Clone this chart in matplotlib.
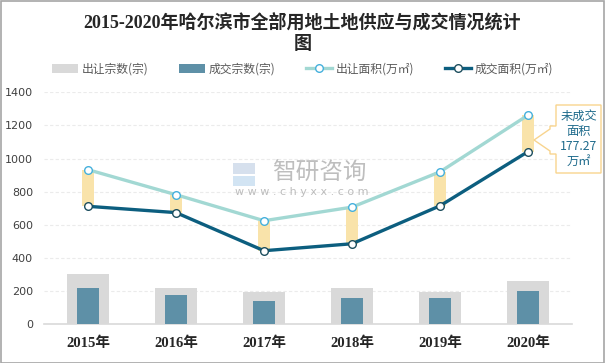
import matplotlib
matplotlib.use("Agg")
import matplotlib.pyplot as plt
import numpy as np
from matplotlib.patches import Rectangle, Polygon
from matplotlib.lines import Line2D

plt.rcParams['font.family'] = ['Noto Sans CJK SC', 'DejaVu Sans']

years = ["2015年", "2016年", "2017年", "2018年", "2019年", "2020年"]
supply_count = [302, 220, 193, 220, 193, 260]      # 出让宗数(宗)
deal_count = [218, 175, 139, 157, 157, 199]        # 成交宗数(宗)
supply_area = [933, 782, 625, 707, 920, 1262]      # 出让面积(万㎡)
deal_area = [712, 674, 444, 486, 715, 1042]        # 成交面积(万㎡)
y_ticks = [0, 200, 400, 600, 800, 1000, 1200, 1400]
title = "2015-2020年哈尔滨市全部用地土地供应与成交情况统计\n图"
note = "未成交\n面积\n177.27\n万㎡"

C_GRAY = "#D9D9D9"
C_BAR = "#5E90A7"
C_SUP = "#A2D8D3"
C_DEAL = "#0C5E7F"
C_YEL = "#F9E3AA"

fig = plt.figure(figsize=(6.05, 3.63), dpi=100)
ax = fig.add_axes([44/605, 1-324.3/363, 528/605, 232/363])

x = np.arange(len(years))
ax.bar(x, supply_count, width=0.47, color=C_GRAY, zorder=2)
ax.bar(x, deal_count, width=0.25, color=C_BAR, zorder=3)

# yellow gap bars
for xi, s, d in zip(x, supply_area, deal_area):
    ax.add_patch(Rectangle((xi-0.072, d), 0.144, s-d, facecolor=C_YEL,
                           edgecolor='none', zorder=4))

ax.plot(x, supply_area, color=C_SUP, lw=2.4, zorder=5, solid_joinstyle='round',
        marker='o', ms=5.5, mfc='white', mec='#45B0DC', mew=1.0)
ax.plot(x, deal_area, color=C_DEAL, lw=2.4, zorder=5, solid_joinstyle='round',
        marker='o', ms=5.5, mfc='white', mec='#1D4E5E', mew=1.0)

ax.set_xlim(-0.5, len(years)-0.5)
ax.set_ylim(0, 1400)
ax.set_yticks(y_ticks)
ax.set_yticklabels([str(v) for v in y_ticks], fontsize=8, color='#404040',
                   family=['DejaVu Sans'])
ax.set_xticks(x)
ax.set_xticklabels(years, fontsize=10.5, fontweight='bold', color='#262626',
                   family=['Liberation Serif', 'Noto Sans CJK SC'])
ax.tick_params(axis='both', length=0)
ax.tick_params(axis='x', pad=9)
ax.tick_params(axis='y', pad=8)
ax.grid(axis='y', color='#EBEBEB', lw=0.8, ls=(0, (3, 2)), zorder=0)
for sp in ['top', 'right', 'left']:
    ax.spines[sp].set_visible(False)
ax.spines['bottom'].set_color('#D9D9D9')
ax.spines['bottom'].set_linewidth(1.2)
ax.set_axisbelow(True)

# title
fig.text(0.5, 1-33/363, title, ha='center', va='center', fontsize=13,
         fontweight='bold', color='#262626', linespacing=1.3,
         family=['Liberation Serif', 'Noto Sans CJK SC'])

# legend
handles = [
    Rectangle((0, 0), 1, 1, facecolor=C_GRAY),
    Rectangle((0, 0), 1, 1, facecolor=C_BAR),
    Line2D([0], [0], color=C_SUP, lw=2.4, marker='o', ms=5.5, mfc='white', mec='#45B0DC'),
    Line2D([0], [0], color=C_DEAL, lw=2.4, marker='o', ms=5.5, mfc='white', mec='#1D4E5E'),
]
labels = ["出让宗数(宗)", "成交宗数(宗)", "出让面积(万㎡)", "成交面积(万㎡)"]
leg = fig.legend(handles, labels, loc='center', bbox_to_anchor=(0.5, 1-69/363),
                 ncol=4, frameon=False, fontsize=8.5, handlelength=2.2,
                 handleheight=0.9, columnspacing=2.6, handletextpad=0.3,
                 labelcolor='#595959')

# watermark
fig.text(319/605, 1-173/363, "智研咨询", ha='center', va='center', fontsize=17,
         color='#A8A8A8', alpha=0.75, zorder=1)
fig.text(302/605, 1-192/363, "w w w . c h y x x . c o m", ha='center', va='center',
         fontsize=8, color='#A8A8A8', alpha=0.75, family=['DejaVu Sans'])
fig.patches.append(Rectangle((233/605, 1-174/363), 22/605, 11/363,
                             transform=fig.transFigure, facecolor='#C5D3E6',
                             edgecolor='none', alpha=0.7))
fig.patches.append(Rectangle((233/605, 1-186/363), 22/605, 10/363,
                             transform=fig.transFigure, facecolor='#BFD9EE',
                             edgecolor='none', alpha=0.7))

# callout
H = 363.0
def fp(px, py):
    return (px/605, 1-py/H)
poly = [fp(556, 105), fp(601, 105), fp(601, 173), fp(556, 173), fp(556, 154),
        fp(550, 154), fp(550, 151), fp(534, 140), fp(550, 129), fp(550, 126),
        fp(556, 126)]
fig.patches.append(Polygon(poly, closed=True, transform=fig.transFigure,
                           facecolor='white', edgecolor='#F8D48E', lw=1.0))
fig.text(578.5/605, 1-139/H, note, ha='center', va='center', fontsize=8.8,
         color='#1F6B8C', linespacing=1.2)

# border
fig.patches.append(Rectangle((0.001, 0.001), 0.998, 0.996, transform=fig.transFigure,
                             facecolor='none', edgecolor='#A6A6A6', lw=1.2))

fig.savefig("out.png", dpi=100)
